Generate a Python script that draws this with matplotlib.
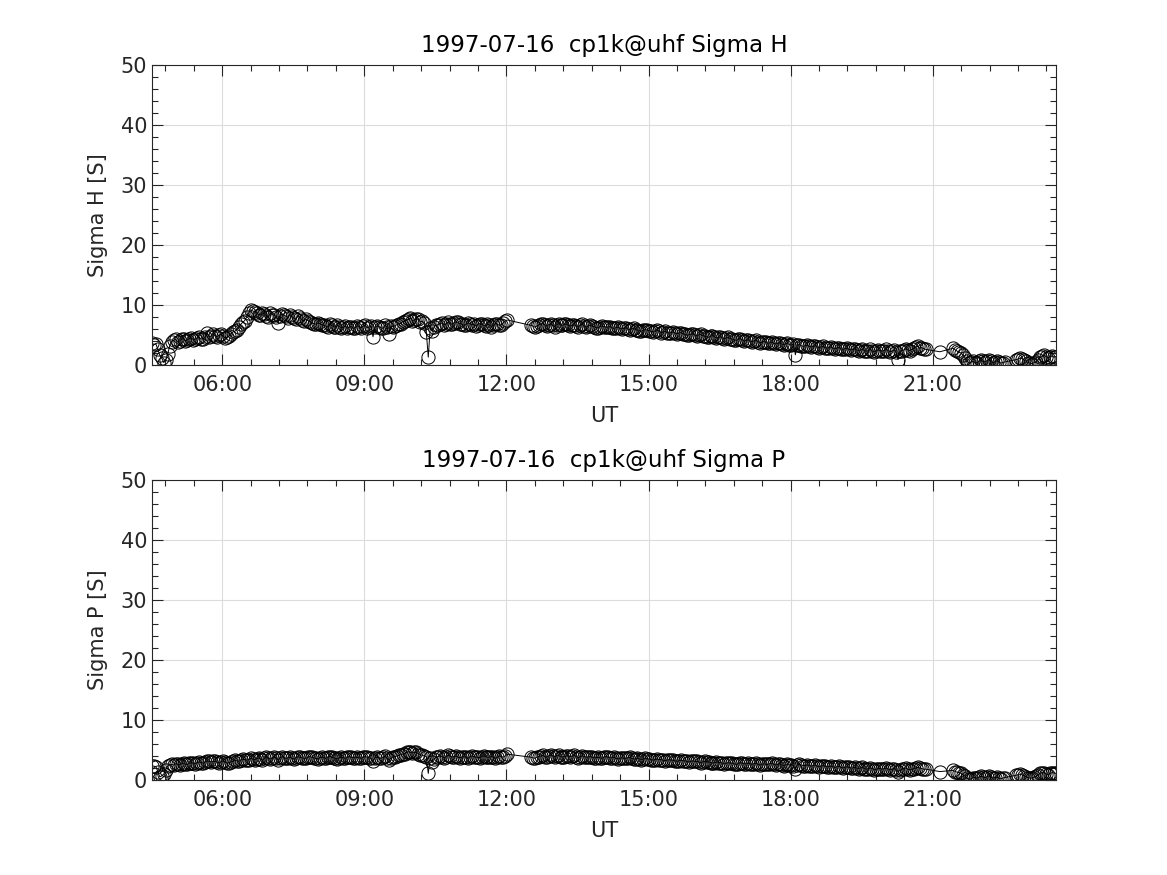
import matplotlib
matplotlib.use('Agg')
import matplotlib.pyplot as plt
from matplotlib.ticker import MultipleLocator, FuncFormatter
import numpy as np

# UT of each sample, minutes after midnight (first pass of the scan)
ut_min = [
    271, 276, 281, 286, 291, 296, 301, 306, 311, 316,
    321, 326, 331, 336, 341, 346, 351, 356, 361, 366,
    371, 376, 381, 386, 391, 396, 401, 406, 411, 416,
    421, 426, 431, 436, 441, 446, 451, 456, 461, 466,
    471, 476, 481, 486, 491, 496, 501, 506, 511, 516,
    521, 526, 531, 536, 541, 546, 551, 556, 561, 566,
    571, 576, 581, 586, 591, 596, 601, 606, 611, 616,
    621, 626, 631, 636, 641, 646, 651, 656, 661, 666,
    671, 676, 681, 686, 691, 696, 701, 706, 711, 716,
    721,
    751, 756, 761, 766, 771, 776, 781, 786, 791, 796,
    801, 806, 811, 816, 821, 826, 831, 836, 841, 846,
    851, 856, 861, 866, 871, 876, 881, 886, 891, 896,
    901, 906, 911, 916, 921, 926, 931, 936, 941, 946,
    951, 956, 961, 966, 971, 976, 981, 986, 991, 996,
    1001, 1006, 1011, 1016, 1021, 1026, 1031, 1036, 1041, 1046,
    1051, 1056, 1061, 1066, 1071, 1076, 1081, 1086, 1091, 1096,
    1101, 1106, 1111, 1116, 1121, 1126, 1131, 1136, 1141, 1146,
    1151, 1156, 1161, 1166, 1171, 1176, 1181, 1186, 1191, 1196,
    1201, 1206, 1211, 1216, 1221, 1226, 1231, 1236, 1241, 1246,
    1251,
    1269,
    1286, 1291, 1296, 1301, 1306, 1311, 1316, 1321, 1326, 1331,
    1336, 1341, 1346, 1351,
    1366, 1371, 1376, 1381, 1386, 1391, 1396, 1401, 1406, 1411,
    1416,
]

sigma_h = [
    3.7, 3.5, 1.6, 0.4, 1.8, 3.9, 4.3, 4.0, 4.4, 4.2,
    4.5, 4.3, 4.6, 4.4, 5.4, 4.8, 4.9, 5.0, 4.8, 4.6,
    5.2, 5.6, 6.3, 7.1, 8.0, 9.2, 8.9, 8.4, 8.7, 8.2,
    8.6, 8.3, 7.0, 8.5, 8.1, 8.4, 7.8, 8.2, 7.5, 7.6,
    7.2, 6.9, 7.0, 6.7, 6.5, 6.8, 6.4, 6.6, 6.2, 6.5,
    6.3, 6.1, 6.5, 6.2, 6.6, 6.3, 4.7, 6.5, 6.2, 6.6,
    5.2, 6.4, 6.7, 6.9, 7.3, 7.6, 7.4, 7.7, 7.2, 7.0,
    1.3, 5.6, 6.6, 6.9, 6.7, 7.1, 6.8, 7.2, 6.9, 6.6,
    7.0, 6.7, 6.5, 6.9, 6.6, 6.8, 6.4, 6.9, 6.6, 7.0,
    7.5,
    6.6, 6.3, 6.7, 6.9, 6.5, 6.8, 6.4, 6.9, 6.6, 6.8,
    6.5, 6.7, 6.4, 6.8, 6.3, 6.6, 6.4, 6.2, 6.5, 6.3,
    6.4, 6.1, 6.3, 6.0, 6.2, 5.9, 6.1, 5.8, 5.6, 5.9,
    5.7, 5.5, 5.8, 5.4, 5.6, 5.3, 5.5, 5.2, 5.4, 5.1,
    5.0, 5.2, 4.9, 5.1, 4.8, 4.6, 4.9, 4.5, 4.7, 4.4,
    4.6, 4.3, 4.1, 4.4, 4.0, 4.2, 3.9, 4.1, 3.7, 3.9,
    3.6, 3.8, 3.5, 3.7, 3.4, 3.6, 3.3, 1.7, 3.4, 3.1,
    3.3, 3.0, 3.2, 2.9, 3.1, 2.8, 3.0, 2.7, 2.9, 2.6,
    2.8, 2.5, 2.7, 2.4, 2.6, 2.3, 2.6, 2.2, 2.5, 2.3,
    2.6, 2.2, 2.5, 0.9, 2.4, 2.7, 2.4, 2.8, 3.1, 2.9,
    2.6,
    2.2,
    2.8, 2.3, 2.0, 1.2, 0.3, 0.6, 0.4, 0.8, 0.5, 0.9,
    0.4, 0.7, 0.3, 0.5,
    0.9, 1.2, 0.8, 0.4, 0.2, 0.5, 1.3, 1.6, 1.2, 1.5,
    1.4,
]

sigma_p = [
    2.4, 2.2, 0.5, 1.0, 2.3, 2.6, 2.7, 2.5, 2.8, 2.6,
    2.9, 2.7, 3.0, 2.8, 3.2, 3.0, 3.1, 2.9, 3.2, 2.8,
    3.0, 3.3, 3.1, 3.5, 3.3, 3.6, 3.4, 3.7, 3.3, 3.8,
    3.5, 3.8, 3.4, 3.9, 3.6, 3.8, 3.5, 3.9, 3.7, 3.6,
    3.9, 3.7, 3.5, 3.8, 3.6, 3.9, 3.7, 3.5, 3.8, 3.6,
    3.9, 3.7, 3.8, 3.6, 3.9, 3.7, 3.1, 3.8, 3.6, 4.0,
    3.3, 3.8, 4.0, 4.2, 4.4, 4.7, 4.5, 4.6, 4.2, 4.0,
    1.1, 3.0, 3.8, 4.0, 3.7, 4.1, 3.8, 4.0, 3.7, 3.9,
    3.6, 4.0, 3.8, 3.7, 4.0, 3.8, 3.9, 3.6, 4.0, 3.8,
    4.3,
    3.8, 3.6, 3.9, 4.1, 3.8, 4.2, 3.9, 4.1, 3.8, 4.0,
    3.9, 4.1, 3.7, 4.0, 3.8, 3.9, 3.7, 3.8, 3.6, 3.9,
    3.7, 3.8, 3.5, 3.7, 3.6, 3.8, 3.5, 3.6, 3.4, 3.6,
    3.5, 3.3, 3.5, 3.4, 3.2, 3.4, 3.3, 3.1, 3.3, 3.2,
    3.0, 3.2, 3.1, 2.9, 3.1, 3.0, 2.8, 3.0, 2.9, 2.7,
    2.9, 2.8, 2.6, 2.9, 2.7, 2.8, 2.6, 2.8, 2.5, 2.7,
    2.6, 2.8, 2.5, 2.7, 2.4, 2.6, 2.5, 1.9, 2.6, 2.4,
    2.5, 2.3, 2.5, 2.2, 2.4, 2.2, 2.3, 2.1, 2.3, 2.0,
    2.2, 2.0, 2.1, 1.9, 2.1, 1.8, 2.0, 1.7, 1.9, 1.8,
    2.0, 1.7, 1.9, 1.4, 1.8, 2.0, 1.7, 1.9, 2.1, 1.9,
    1.8,
    1.4,
    1.6, 1.3, 1.1, 0.6, 0.1, 0.4, 0.3, 0.6, 0.4, 0.7,
    0.3, 0.5, 0.2, 0.4,
    0.8, 1.0, 0.7, 0.4, 0.3, 0.6, 1.1, 1.2, 0.9, 1.2,
    1.1,
]

# second pass of the scan, samples in between
ut_min_2 = [
    273.5, 278.5, 283.5, 288.5, 293.5, 298.5, 303.5, 308.5, 313.5, 318.5,
    323.5, 328.5, 333.5, 338.5, 343.5, 348.5, 353.5, 358.5, 363.5, 368.5,
    373.5, 378.5, 383.5, 388.5, 393.5, 398.5, 403.5, 408.5, 413.5, 418.5,
    423.5, 428.5, 433.5, 438.5, 443.5, 448.5, 453.5, 458.5, 463.5, 468.5,
    473.5, 478.5, 483.5, 488.5, 493.5, 498.5, 503.5, 508.5, 513.5, 518.5,
    523.5, 528.5, 533.5, 538.5, 543.5, 548.5, 553.5, 558.5, 563.5, 568.5,
    573.5, 578.5, 583.5, 588.5, 593.5, 598.5, 603.5, 608.5, 613.5, 618.5,
    623.5, 628.5, 633.5, 638.5, 643.5, 648.5, 653.5, 658.5, 663.5, 668.5,
    673.5, 678.5, 683.5, 688.5, 693.5, 698.5, 703.5, 708.5, 713.5, 718.5,
    753.5, 758.5, 763.5, 768.5, 773.5, 778.5, 783.5, 788.5, 793.5, 798.5,
    803.5, 808.5, 813.5, 818.5, 823.5, 828.5, 833.5, 838.5, 843.5, 848.5,
    853.5, 858.5, 863.5, 868.5, 873.5, 878.5, 883.5, 888.5, 893.5, 898.5,
    903.5, 908.5, 913.5, 918.5, 923.5, 928.5, 933.5, 938.5, 943.5, 948.5,
    953.5, 958.5, 963.5, 968.5, 973.5, 978.5, 983.5, 988.5, 993.5, 998.5,
    1003.5, 1008.5, 1013.5, 1018.5, 1023.5, 1028.5, 1033.5, 1038.5, 1043.5, 1048.5,
    1053.5, 1058.5, 1063.5, 1068.5, 1073.5, 1078.5, 1083.5, 1088.5, 1093.5, 1098.5,
    1103.5, 1108.5, 1113.5, 1118.5, 1123.5, 1128.5, 1133.5, 1138.5, 1143.5, 1148.5,
    1153.5, 1158.5, 1163.5, 1168.5, 1173.5, 1178.5, 1183.5, 1188.5, 1193.5, 1198.5,
    1203.5, 1208.5, 1213.5, 1218.5, 1223.5, 1228.5, 1233.5, 1238.5, 1243.5, 1248.5,
    1288.5, 1293.5, 1298.5, 1303.5, 1308.5, 1313.5, 1318.5, 1323.5, 1328.5, 1333.5,
    1338.5, 1343.5, 1348.5,
    1368.5, 1373.5, 1378.5, 1383.5, 1388.5, 1393.5, 1398.5, 1403.5, 1408.5, 1413.5,
]

sigma_h_2 = [
    3.4, 2.6, 1.1, 0.9, 3.2, 4.1, 3.8, 4.3, 4.0, 4.4,
    4.2, 4.5, 4.3, 4.6, 4.7, 5.1, 4.7, 5.1, 4.5, 4.8,
    5.5, 5.9, 6.8, 7.4, 8.6, 9.0, 8.7, 8.3, 8.5, 8.0,
    8.4, 8.0, 8.2, 8.3, 7.9, 8.0, 7.6, 7.9, 7.3, 7.4,
    7.0, 6.8, 6.9, 6.6, 6.3, 6.6, 6.3, 6.4, 6.3, 6.1,
    6.4, 6.2, 6.4, 6.5, 6.2, 6.5, 6.3, 6.4, 6.1, 6.4,
    6.5, 6.5, 6.8, 7.2, 7.5, 7.8, 7.5, 7.6, 7.3, 5.5,
    6.2, 6.4, 6.7, 7.0, 6.8, 6.9, 7.0, 7.1, 6.8, 6.7,
    6.9, 6.8, 6.7, 6.8, 6.5, 6.7, 6.6, 6.8, 6.7, 7.3,
    6.5, 6.5, 6.8, 6.7, 6.7, 6.6, 6.7, 6.7, 6.8, 6.6,
    6.6, 6.5, 6.6, 6.5, 6.5, 6.5, 6.2, 6.4, 6.4, 6.3,
    6.2, 6.2, 6.1, 6.1, 6.0, 6.0, 5.9, 5.7, 5.8, 5.8,
    5.6, 5.7, 5.6, 5.5, 5.4, 5.4, 5.3, 5.3, 5.2, 5.0,
    5.1, 5.0, 5.0, 4.9, 4.7, 4.8, 4.7, 4.6, 4.5, 4.5,
    4.4, 4.2, 4.3, 4.2, 4.1, 4.0, 4.0, 3.9, 3.8, 3.8,
    3.7, 3.6, 3.6, 3.5, 3.5, 3.4, 3.5, 3.3, 3.2, 3.2,
    3.1, 3.1, 3.0, 3.0, 2.9, 2.9, 2.8, 2.8, 2.7, 2.7,
    2.6, 2.6, 2.5, 2.5, 2.4, 2.4, 2.3, 2.4, 2.4, 2.4,
    2.4, 2.3, 2.2, 2.3, 2.5, 2.5, 2.6, 3.0, 2.8, 2.7,
    2.5, 2.1, 1.6, 0.7, 0.5, 0.3, 0.6, 0.6, 0.7, 0.6,
    0.5, 0.5, 0.4,
    1.0, 1.0, 0.6, 0.3, 0.4, 0.9, 1.5, 1.4, 1.4, 1.3,
]

sigma_p_2 = [
    2.3, 1.4, 0.7, 1.7, 2.5, 2.5, 2.6, 2.7, 2.6, 2.8,
    2.8, 2.9, 2.9, 3.0, 3.1, 3.1, 3.0, 3.0, 3.0, 2.9,
    3.1, 3.2, 3.3, 3.4, 3.4, 3.5, 3.5, 3.5, 3.6, 3.6,
    3.7, 3.6, 3.7, 3.7, 3.7, 3.6, 3.7, 3.8, 3.6, 3.8,
    3.8, 3.6, 3.7, 3.7, 3.8, 3.8, 3.6, 3.7, 3.7, 3.8,
    3.8, 3.7, 3.7, 3.8, 3.8, 3.6, 3.7, 3.7, 3.8, 3.7,
    3.6, 3.9, 4.1, 4.3, 4.6, 4.6, 4.6, 4.4, 4.1, 3.9,
    3.6, 3.5, 3.9, 3.9, 3.9, 4.0, 3.9, 3.8, 3.8, 3.8,
    3.8, 3.9, 3.8, 3.9, 3.9, 3.8, 3.8, 3.8, 3.9, 4.0,
    3.7, 3.8, 4.0, 3.9, 4.0, 4.0, 4.0, 3.9, 3.9, 4.0,
    4.0, 3.9, 3.9, 3.9, 3.8, 3.8, 3.7, 3.7, 3.8, 3.8,
    3.7, 3.6, 3.6, 3.6, 3.7, 3.6, 3.5, 3.5, 3.5, 3.5,
    3.4, 3.4, 3.4, 3.3, 3.3, 3.3, 3.2, 3.2, 3.2, 3.1,
    3.1, 3.1, 3.0, 3.0, 3.0, 2.9, 2.9, 2.9, 2.8, 2.8,
    2.8, 2.7, 2.7, 2.8, 2.7, 2.7, 2.7, 2.6, 2.6, 2.6,
    2.7, 2.6, 2.6, 2.5, 2.5, 2.5, 2.4, 2.5, 2.5, 2.4,
    2.4, 2.4, 2.3, 2.3, 2.3, 2.2, 2.2, 2.2, 2.1, 2.1,
    2.1, 2.0, 2.0, 2.0, 1.9, 1.9, 1.9, 1.8, 1.9, 1.9,
    1.8, 1.8, 1.7, 1.6, 1.9, 1.8, 1.8, 2.0, 2.0, 1.8,
    1.4, 1.2, 0.8, 0.3, 0.2, 0.4, 0.5, 0.5, 0.5, 0.5,
    0.4, 0.3, 0.3,
    0.9, 0.8, 0.5, 0.3, 0.5, 0.9, 1.2, 1.0, 1.1, 1.2,
]

title_date = '1997-07-16  cp1k@uhf'
panels = [('Sigma H', sigma_h + sigma_h_2), ('Sigma P', sigma_p + sigma_p_2)]

t_all = np.array(ut_min + ut_min_2, dtype=float)
order = np.argsort(t_all)
ut_hours = t_all[order] / 60.0

fig = plt.figure(figsize=(11.67, 8.75), dpi=100)
positions = [[0.1302, 0.5829, 0.7746, 0.3429], [0.1302, 0.1086, 0.7746, 0.3429]]

def hhmm(x, pos):
    mins = int(round(x * 60))
    return '%02d:%02d' % (mins // 60, mins % 60)

for (name, vals), pos in zip(panels, positions):
    ax = fig.add_axes(pos)
    ax.plot(ut_hours, np.array(vals)[order], '-', color='black', linewidth=0.7,
            marker='o', markersize=9.5, markerfacecolor='none',
            markeredgecolor='black', markeredgewidth=0.7)
    ax.set_xlim(ut_hours[0], ut_hours[-1])
    ax.set_ylim(0, 50)
    ax.xaxis.set_major_locator(MultipleLocator(3))
    ax.xaxis.set_minor_locator(MultipleLocator(0.6))
    ax.xaxis.set_major_formatter(FuncFormatter(hhmm))
    ax.yaxis.set_major_locator(MultipleLocator(10))
    ax.yaxis.set_minor_locator(MultipleLocator(2))
    ax.grid(True, which='major', color='#dcdcdc', linewidth=0.8)
    ax.set_axisbelow(True)
    ax.tick_params(which='both', direction='in', top=True, right=True,
                   labelsize=15, colors='#262626', labelcolor='#262626')
    ax.tick_params(which='major', length=8, width=0.8)
    ax.tick_params(which='minor', length=4.5, width=0.8)
    ax.tick_params(axis='x', which='major', pad=7)
    for sp in ax.spines.values():
        sp.set_linewidth(0.8)
        sp.set_color('#262626')
    ax.set_title(title_date + ' ' + name, fontsize=16.5, color='black', pad=9)
    ax.set_xlabel('UT', fontsize=15, color='#262626', labelpad=8)
    ax.set_ylabel(name + ' [S]', fontsize=15, color='#262626', labelpad=9)

fig.savefig('out.png', dpi=100)
